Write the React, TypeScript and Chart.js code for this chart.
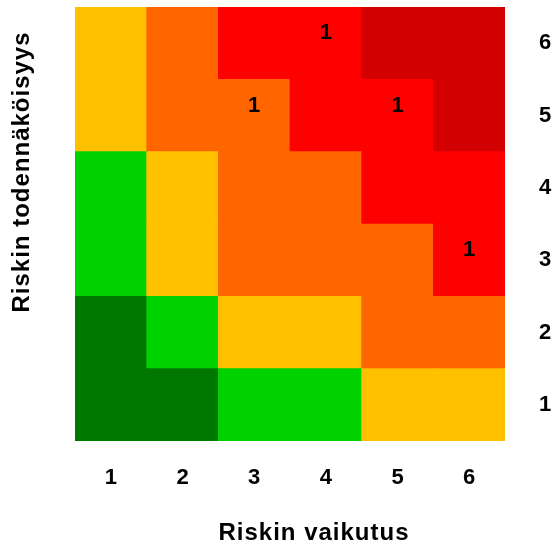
import React, { useEffect, useRef } from "react";
import { Chart, registerables } from "chart.js";

Chart.register(...registerables);

const xLabels = ["1", "2", "3", "4", "5", "6"];
const yLabels = ["1", "2", "3", "4", "5", "6"];
const xTitle = "Riskin vaikutus";
const yTitle = "Riskin todennäköisyys";

// palette index: 0 dark green, 1 green, 2 yellow, 3 orange, 4 red, 5 dark red
const palette = ["#007800", "#00D200", "#FFC000", "#FF6600", "#FF0000", "#D20000"];

const levelRow1 = [0, 0, 1, 1, 2, 2];
const levelRow2 = [0, 1, 2, 2, 3, 3];
const levelRow3 = [1, 2, 3, 3, 3, 4];
const levelRow4 = [1, 2, 3, 3, 4, 4];
const levelRow5 = [2, 3, 3, 4, 4, 5];
const levelRow6 = [2, 3, 4, 4, 5, 5];
const levelRows = [levelRow1, levelRow2, levelRow3, levelRow4, levelRow5, levelRow6];

// risks counted per cell (impact, probability, count)
const riskImpact = [4, 3, 5, 6];
const riskProbability = [6, 5, 5, 3];
const riskCount = [1, 1, 1, 1];

const cellHeight = [1, 1, 1, 1, 1, 1];

const FONT = "Arial, 'Liberation Sans', Helvetica, sans-serif";

export default function App() {
  const ref = useRef<HTMLCanvasElement>(null);
  useEffect(() => {
    if (!ref.current) return;
    const datasets = levelRows.map((row, i) => ({
      label: yLabels[i],
      data: cellHeight,
      backgroundColor: row.map((l) => palette[l]),
      borderWidth: 0,
      barPercentage: 1,
      categoryPercentage: 1,
      yAxisID: "y",
    }));

    const overlay = {
      id: "overlay",
      afterDatasetsDraw(chart: any) {
        const { ctx, scales } = chart;
        ctx.save();
        ctx.fillStyle = "#000";
        ctx.font = `bold 22px ${FONT}`;
        ctx.textAlign = "center";
        ctx.textBaseline = "middle";
        for (let i = 0; i < riskCount.length; i++) {
          const x = scales.x.getPixelForValue(riskImpact[i] - 1);
          const y = scales.y.getPixelForValue(riskProbability[i] - 0.5);
          ctx.fillText(String(riskCount[i]), x, y - 10);
        }
        ctx.restore();
      },
      afterDraw(chart: any) {
        const { ctx } = chart;
        ctx.save();
        ctx.fillStyle = "#000";
        ctx.font = `bold 24px ${FONT}`;
        (ctx as any).letterSpacing = "1px";
        ctx.textAlign = "center";
        ctx.textBaseline = "middle";
        ctx.fillText(xTitle, 314, 533);
        ctx.translate(22, 172);
        ctx.rotate(-Math.PI / 2);
        ctx.fillText(yTitle, 0, 0);
        ctx.restore();
      },
    };

    const chart = new Chart(ref.current, {
      type: "bar",
      data: { labels: xLabels, datasets },
      options: {
        animation: false,
        responsive: false,
        maintainAspectRatio: false,
        layout: { padding: { top: 7, left: 0, right: 0, bottom: 0 } },
        plugins: { legend: { display: false }, tooltip: { enabled: false } },
        scales: {
          x: {
            type: "category",
            stacked: true,
            grid: { display: false, drawTicks: false },
            border: { display: false },
            ticks: { color: "#000", font: { family: FONT, size: 22, weight: "bold" }, padding: 24 },
            afterFit(s: any) {
              s.height = 106;
              s.paddingLeft = 0;
              s.paddingRight = 0;
            },
          },
          y: {
            type: "linear",
            stacked: true,
            min: 0,
            max: 6,
            position: "left",
            grid: { display: false, drawTicks: false },
            border: { display: false },
            ticks: { display: false },
            afterFit(s: any) {
              s.width = 75;
              s.paddingTop = 0;
              s.paddingBottom = 0;
            },
          },
          y2: {
            type: "category",
            labels: [...yLabels].reverse(),
            position: "right",
            offset: true,
            grid: { display: false, drawTicks: false },
            border: { display: false },
            ticks: { color: "#000", font: { family: FONT, size: 22, weight: "bold" }, padding: 34 },
            afterFit(s: any) {
              s.width = 52;
              s.paddingTop = 0;
              s.paddingBottom = 0;
            },
          },
        },
      },
      plugins: [overlay],
    } as any);
    return () => chart.destroy();
  }, []);
  return (
    <div style={{ position: "fixed", left: 0, top: 0, width: 557, height: 547, background: "#fff" }}>
      <canvas ref={ref} width={557} height={547} style={{ display: "block" }} />
    </div>
  );
}
